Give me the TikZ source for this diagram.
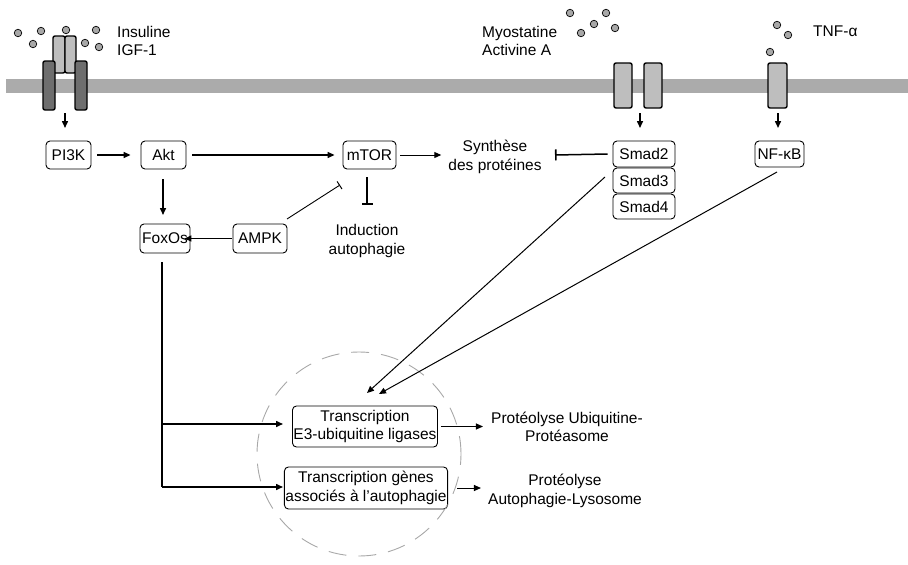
\documentclass[tikz,border=0pt]{standalone}
\usepackage{fontspec}
\setmainfont{Liberation Sans}
\usetikzlibrary{arrows.meta}
\definecolor{memb}{HTML}{ABABAB}
\definecolor{darkrec}{HTML}{6E6E6E}
\definecolor{lightrec}{HTML}{BEBEBE}
\definecolor{dotc}{HTML}{A8A8A8}
\definecolor{circc}{HTML}{A8A8A8}
\tikzset{
  lbl/.style={font=\fontsize{15.5}{18.5}\selectfont, align=center, inner sep=0pt},
  box/.style={draw, rounded corners=4pt, line width=0.9pt, font=\fontsize{15.5}{18.5}\selectfont, align=center, inner sep=1pt},
  arr/.style={line width=1.5pt, -{Triangle[length=7pt,width=6pt]}},
  thinarr/.style={line width=1pt, -{Triangle[length=7pt,width=6pt]}},
  inh/.style={line width=1.5pt, -{Bar[width=11pt,line width=1.6pt]}},
  thininh/.style={line width=0.9pt, -{Bar[width=9pt,line width=1pt]}},
  rec/.style={draw, line width=1.4pt, rounded corners=2pt},
  ligand/.style={circle, draw, fill=dotc, line width=0.7pt, minimum size=7.5pt, inner sep=0pt},
}
\begin{document}
\begin{tikzpicture}[x=1pt,y=-1pt]
\useasboundingbox (0,0) rectangle (908,565);
% membrane
\fill[memb] (6,79) rectangle (908,93);
% insulin receptor
\draw[rec, fill=lightrec] (53,36) rectangle (65,73);
\draw[rec, fill=lightrec] (65,36) rectangle (76,73);
\draw[rec, fill=darkrec] (43,61) rectangle (55,110);
\draw[rec, fill=darkrec] (75,61) rectangle (87,110);
% myostatin receptors
\draw[rec, fill=lightrec] (614,63) rectangle (632,108);
\draw[rec, fill=lightrec] (644,63) rectangle (662,108);
% TNF receptor
\draw[rec, fill=lightrec] (768,63) rectangle (787,108);
% ligands
\foreach \i/\p in {a/{(18,33)},b/{(41,31)},c/{(66,30)},d/{(96,30)},e/{(33,44)},f/{(85,43)},g/{(99,47)},
  h/{(570,13)},k/{(606,13)},l/{(594,24)},m/{(581,33)},n/{(615,28)},
  o/{(777,25)},p/{(788,35)},q/{(770,52)}}
  \node[ligand] (lig\i) at \p {};
% ligand labels
\node[lbl, align=left, anchor=west] (insl) at (117,41) {Insuline\\IGF-1};
\node[lbl, align=left, anchor=west] (myol) at (482,41) {Myostatine\\Activine A};
\node[lbl, anchor=west] (tnfl) at (813,31) {TNF-α};
% boxes
\node[box, minimum width=45pt, minimum height=28pt] (pi3k) at (68.5,155) {PI3K};
\node[box, minimum width=45pt, minimum height=28pt] (akt) at (163.5,155) {Akt};
\node[box, minimum width=53pt, minimum height=28pt] (mtor) at (369.5,155) {mTOR};
\node[box, minimum width=50pt, minimum height=29pt] (foxo) at (165,238.5) {FoxOs};
\node[box, minimum width=54pt, minimum height=29pt] (ampk) at (260,238.5) {AMPK};
\node[box, minimum width=62pt, minimum height=26pt] (smad2) at (644,154) {Smad2};
\node[box, minimum width=62pt, minimum height=25pt] (smad3) at (644,180.5) {Smad3};
\node[box, minimum width=62pt, minimum height=25pt] (smad4) at (644,206.5) {Smad4};
\node[box, minimum width=49pt, minimum height=26pt] (nfkb) at (779.5,154) {NF-κB};
\node[box, minimum width=142pt, minimum height=41pt] (e3) at (365,426.5) {Transcription\\E3-ubiquitine ligases};
\node[box, minimum width=160pt, minimum height=42pt] (autog) at (366,488) {Transcription gènes\\associés à l’autophagie};
% text labels
\node[lbl] (synth) at (495,157) {Synthèse\\des protéines};
\node[lbl] (induc) at (367,241) {Induction\\autophagie};
\node[lbl] (ups) at (567,427) {Protéolyse Ubiquitine-\\Protéasome};
\node[lbl] (lyso) at (565,491) {Protéolyse\\Autophagie-Lysosome};
% dashed circle
\node[draw=circc, dash pattern=on 18pt off 12pt, line width=0.9pt, circle, minimum size=204pt, inner sep=0pt] (nucl) at (359,454) {};
% receptor arrows
\coordinate (insr) at (65,113);
\coordinate (myor) at (640,113);
\coordinate (tnfr) at (778,113);
\coordinate (insend) at (65,128);
\coordinate (myoend) at (640,128);
\coordinate (tnfend) at (778,128);
\draw[arr] (insr) -- (insend);
\draw[arr] (myor) -- (myoend);
\draw[arr] (tnfr) -- (tnfend);
% pathway
\draw[arr] ([xshift=6]pi3k.east) -- ([xshift=-10]akt.west);
\draw[arr] ([xshift=6]akt.east) -- ([xshift=-8]mtor.west);
\draw[thinarr] ([xshift=4]mtor.east) -- ([xshift=-7]synth.west |- mtor.east);
\coordinate (aktdown) at (163,179);
\coordinate (foxoup) at (163,215);
\draw[arr] (aktdown) -- (foxoup);
\draw[arr] ([xshift=-1]ampk.west) -- ([xshift=-6]foxo.east);
\coordinate (ampkst) at (287,219);
\coordinate (mtorhit) at (340,185);
\draw[thininh] (ampkst) -- (mtorhit);
\coordinate (mtordown) at (367,177);
\coordinate (inducup) at (367,205);
\draw[inh] (mtordown) -- (inducup);
\coordinate (synthbar) at (555,155);
\draw[inh] ([xshift=-5]smad2.west) -- (synthbar);
\coordinate (smadst) at (605,177);
\coordinate (nfkbst) at (777,172);
\coordinate (e3in1) at (367,393);
\coordinate (e3in2) at (379,394);
\draw[thinarr] (smadst) -- (e3in1);
\draw[thinarr] (nfkbst) -- (e3in2);
% FoxOs output
\coordinate (fxtop) at (162,262);
\coordinate (fxmid) at (162,424);
\coordinate (fxbr) at (162,487);
\coordinate (e3arr) at (283,424);
\coordinate (autogarr) at (283,487);
\draw[line width=1.5pt] (fxtop) -- (fxbr);
\draw[arr] (fxmid) -- (e3arr);
\draw[arr] (fxbr) -- (autogarr);
% outputs
\draw[thinarr] ([xshift=3]e3.east) -- ([xshift=-8]ups.west |- e3.east);
\draw[thinarr] ([xshift=9]autog.east) -- ([xshift=-7]lyso.west |- autog.east);
\end{tikzpicture}
\end{document}
